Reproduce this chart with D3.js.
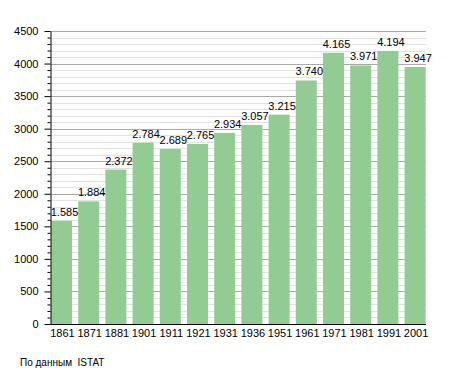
<!DOCTYPE html>
<html>
<head>
<meta charset="utf-8">
<script src="https://cdn.jsdelivr.net/npm/d3@7"></script>
<style>
  body { margin: 0; background: #fff; }
  text { font-family: "Liberation Sans", Arial, sans-serif; }
</style>
</head>
<body>
<div id="chart"></div>
<script>
let years = ["1861", "1871", "1881", "1901", "1911", "1921", "1931", "1936", "1951", "1961", "1971", "1981", "1991", "2001"];
let population = [1585, 1884, 2372, 2784, 2689, 2765, 2934, 3057, 3215, 3740, 4165, 3971, 4194, 3947];
let major_ticks = [0, 500, 1000, 1500, 2000, 2500, 3000, 3500, 4000, 4500];
let source_note = "По данным  ISTAT";

let width = 455, height = 373;
let plot = {left: 50.5, right: 426, top: 31, bottom: 324};

let svg = d3.select("#chart")
            .append("svg")
            .attr("width", width)
            .attr("height", height);

let y = d3.scaleLinear()
          .domain([0, 4500])
          .range([plot.bottom, plot.top]);

let x = d3.scaleBand()
          .domain(years)
          .range([51, 425.6])
          .paddingInner(0.228)
          .paddingOuter(0);

// minor grid every 100
let minor = d3.range(0, 4501, 100).filter(v => v % 500 != 0);
svg.append("g")
   .selectAll("line")
   .data(minor)
   .enter().append("line")
   .attr("x1", plot.left).attr("x2", plot.right)
   .attr("y1", d => Math.round(y(d)) + 0.5).attr("y2", d => Math.round(y(d)) + 0.5)
   .attr("stroke", "#e2e2e2");

// major grid
svg.append("g")
   .selectAll("line")
   .data(major_ticks.filter(d => d > 0))
   .enter().append("line")
   .attr("x1", plot.left).attr("x2", plot.right)
   .attr("y1", d => Math.round(y(d)) + 0.5).attr("y2", d => Math.round(y(d)) + 0.5)
   .attr("stroke", "#aaaaaa");

// bars
svg.append("g")
   .selectAll("rect")
   .data(population)
   .enter().append("rect")
   .attr("x", (d, i) => x(years[i]))
   .attr("y", d => y(d))
   .attr("width", x.bandwidth())
   .attr("height", d => y(0) - y(d))
   .attr("fill", "#93cc93");

// value labels
let fmt = d3.formatLocale({decimal: ",", thousands: ".", grouping: [3], currency: ["", ""]}).format(",d");
svg.append("g")
   .selectAll("text")
   .data(population)
   .enter().append("text")
   .attr("x", (d, i) => x(years[i]) + x.bandwidth() / 2 + 3)
   .attr("y", d => y(d) - 5)
   .attr("text-anchor", "middle")
   .attr("font-size", 11)
   .attr("fill", "#000")
   .text(d => fmt(d));

// y axis with major and minor ticks
svg.append("g")
   .attr("transform", "translate(" + plot.left + ",0)")
   .call(d3.axisLeft(y).tickValues(minor).tickSize(3).tickFormat(""))
   .call(g => g.select(".domain").remove());

let yAxis = svg.append("g")
   .attr("transform", "translate(" + plot.left + ",0)")
   .call(d3.axisLeft(y).tickValues(major_ticks).tickSize(6).tickSizeOuter(0).tickFormat(d3.format("d")));
yAxis.selectAll("text")
     .attr("font-size", 11)
     .attr("font-family", "Liberation Sans, Arial, sans-serif")
     .attr("x", -12);

// x axis
let xAxis = svg.append("g")
   .attr("transform", "translate(0," + (plot.bottom + 0.5) + ")");
xAxis.append("line")
     .attr("x1", plot.left).attr("x2", plot.right)
     .attr("stroke", "#000");
xAxis.selectAll("text")
     .data(years)
     .enter().append("text")
     .attr("x", d => x(d) + x.bandwidth() / 2 + 1)
     .attr("y", 12)
     .attr("text-anchor", "middle")
     .attr("font-size", 11)
     .text(d => d);

svg.append("text")
   .attr("x", 20)
   .attr("y", 366)
   .attr("font-size", 10)
   .style("white-space", "pre")
   .text(source_note);
</script>
</body>
</html>
